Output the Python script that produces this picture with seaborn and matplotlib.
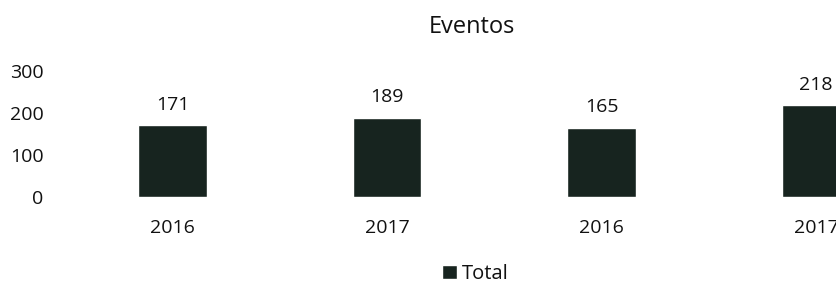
import matplotlib
matplotlib.use("Agg")
import matplotlib.pyplot as plt
import seaborn as sns
import pandas as pd

title = "Eventos"
groups = ["A", "A", "B", "B"]
years = ["2016", "2017", "2016", "2017"]
values = [171, 189, 165, 218]
series_name = "Total"
yticks = [0, 100, 200, 300]

df = pd.DataFrame({"key": [f"{g}-{y}" for g, y in zip(groups, years)],
                   "value": values})

sns.set_theme(style="white")
plt.rcParams["font.family"] = ["Open Sans", "DejaVu Sans"]

W, H = 837, 284
fig = plt.figure(figsize=(W / 100, H / 100), dpi=100)
ax = fig.add_axes([65.25 / W, (H - 196.7) / H, 858 / W, 125.7 / H])

color = "#17241f"
text_color = "#111111"
sns.barplot(data=df, x="key", y="value", color=color, width=0.32,
            saturation=1, ax=ax, label=series_name)

ax.set_ylim(0, 300)
ax.set_xlim(-0.5, 3.5)
ax.set_yticks(yticks)
ax.set_yticklabels([str(t) for t in yticks])
ax.set_xticks(range(len(years)))
ax.set_xticklabels(years)
ax.set_xlabel("")
ax.set_ylabel("")
for s in ax.spines.values():
    s.set_visible(False)
ax.tick_params(axis="y", length=0, pad=15.7, labelsize=14, labelcolor=text_color)
ax.tick_params(axis="x", length=0, pad=16, labelsize=14, labelcolor=text_color)

for c in ax.containers:
    ax.bar_label(c, labels=[str(v) for v in values], padding=8,
                 fontsize=14, color=text_color)

if ax.get_legend() is not None:
    ax.get_legend().remove()
handles, labels = ax.get_legend_handles_labels()
fig.legend(handles[:1], labels[:1], loc="center", bbox_to_anchor=(475 / W, 1 - 274 / H),
           frameon=False, fontsize=14.5, handlelength=0.75, handleheight=0.75,
           handletextpad=0.25, labelcolor=text_color, borderpad=0)

fig.text(472 / W, 1 - 27 / H, title, ha="center", va="center",
         fontsize=17, color=text_color)

fig.savefig("out.png", dpi=100, facecolor="white")
